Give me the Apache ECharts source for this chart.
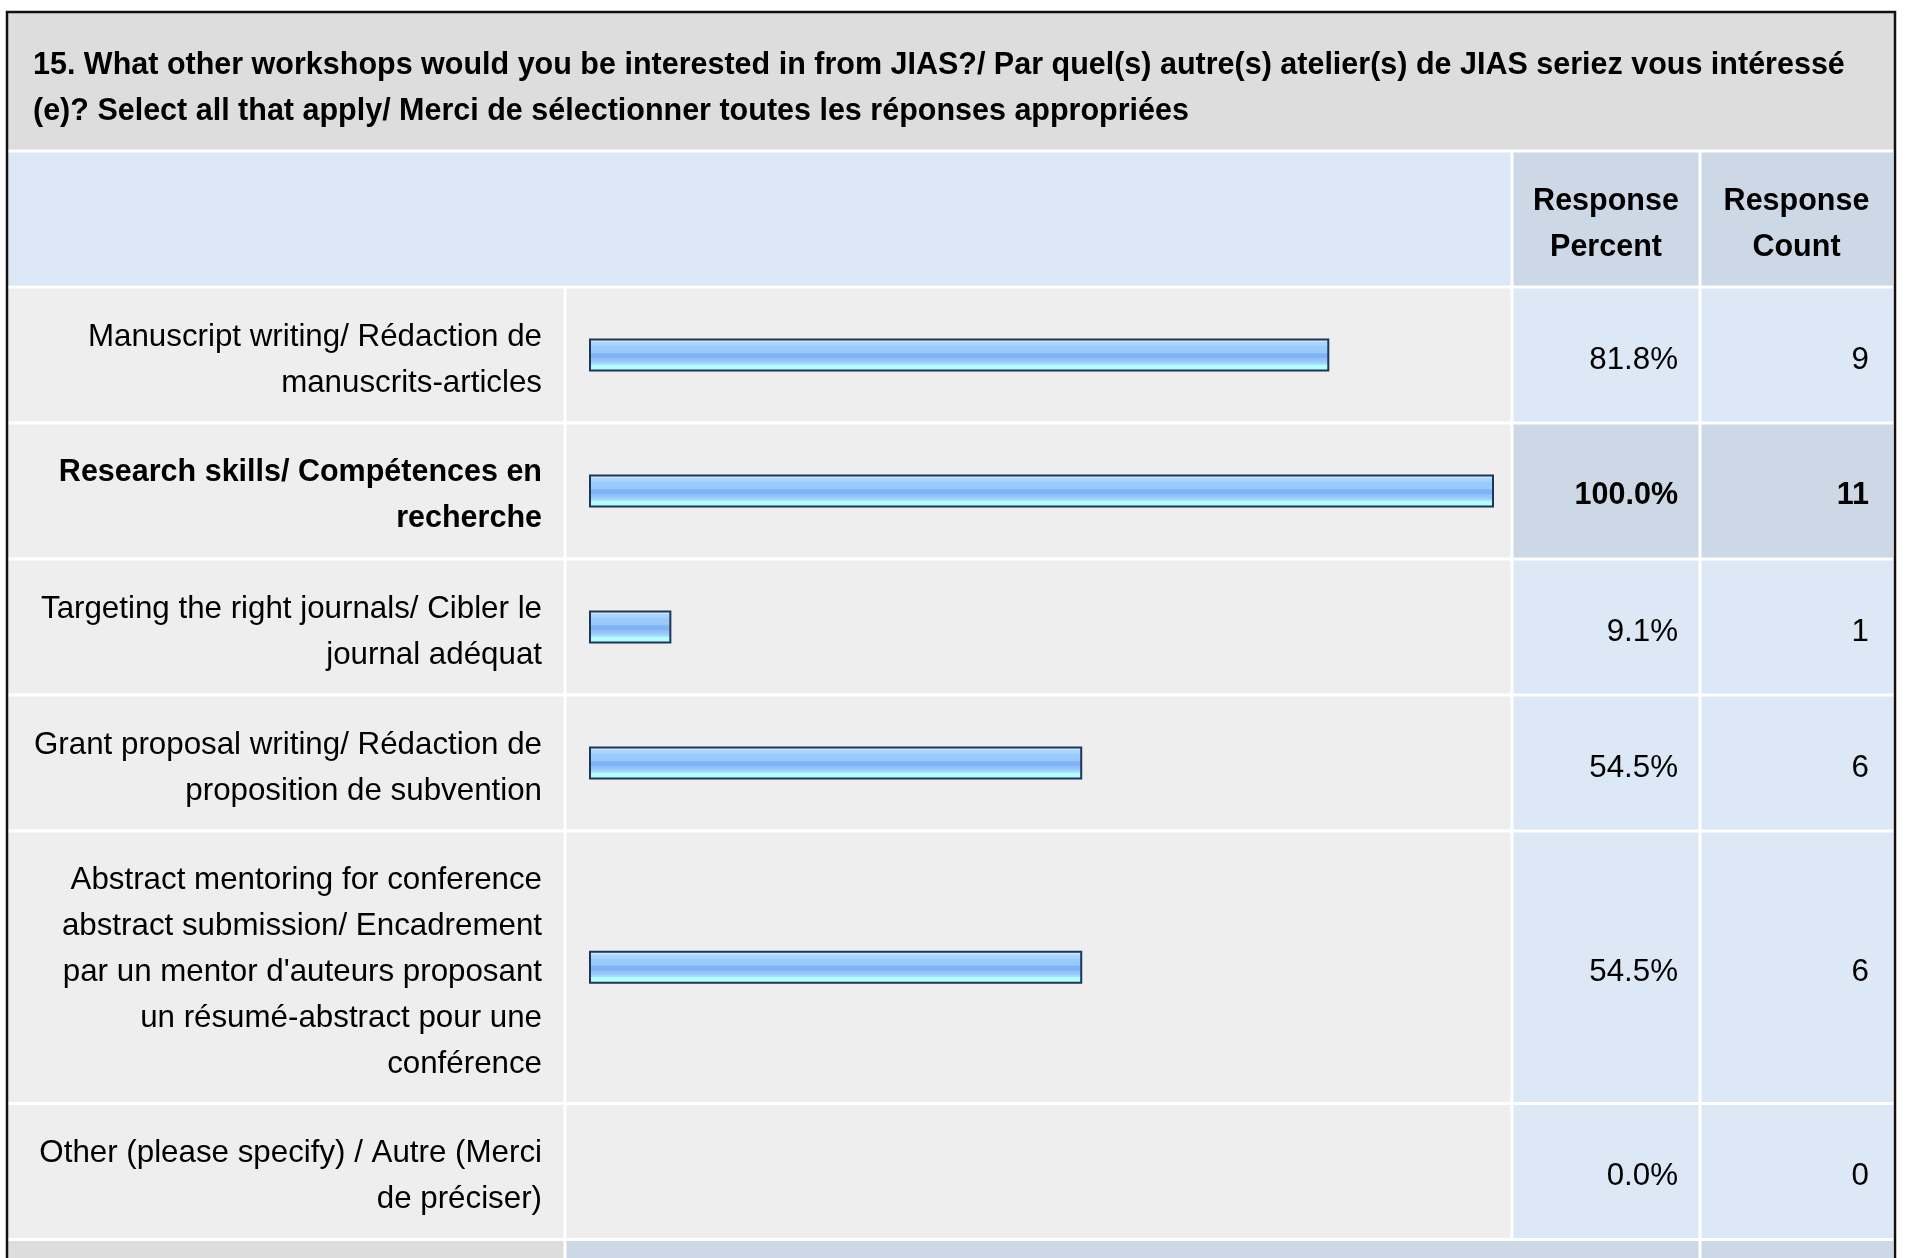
<!DOCTYPE html>
<html>
<head>
<meta charset="utf-8">
<script src="https://cdn.jsdelivr.net/npm/echarts@6/dist/echarts.min.js"></script>
<style>
html,body{margin:0;padding:0;background:#fff;}
#chart{width:1907px;height:1258px;}
</style>
</head>
<body>
<div id="chart"></div>
<script>
// ---- data ----
const categories = [
  "Manuscript writing/ Rédaction de\nmanuscrits-articles",
  "Research skills/ Compétences en\nrecherche",
  "Targeting the right journals/ Cibler le\njournal adéquat",
  "Grant proposal writing/ Rédaction de\nproposition de subvention",
  "Abstract mentoring for conference\nabstract submission/ Encadrement\npar un mentor d'auteurs proposant\nun résumé-abstract pour une\nconférence",
  "Other (please specify) / Autre (Merci\nde préciser)"
];
const responsePercent = [81.8, 100.0, 9.1, 54.5, 54.5, 0.0];
const responseCount = [9, 11, 1, 6, 6, 0];
const columnHeaders = ["Response\nPercent", "Response\nCount"];
const titleText = "15. What other workshops would you be interested in from JIAS?/ Par quel(s) autre(s) atelier(s) de JIAS seriez vous intéressé\n(e)? Select all that apply/ Merci de sélectionner toutes les réponses appropriées";

// ---- layout ----
const FONT = "'Liberation Sans', Arial, Helvetica, sans-serif";
const L = {
  outerL: 8, outerR: 1894, outerT: 13,
  titleB: 151, headerB: 287,
  colLabelR: 565, colBarR: 1512, colPctR: 1700, colCntR: 1893,
  barLeft: 589, barWidthPx: 905,
  lineH: 45.5, rowPad: 45, gap: 1.5
};
const maxVal = Math.max.apply(null, responsePercent);
const rows = [];
let y = L.headerB;
categories.forEach((c, i) => {
  const lines = c.split("\n").length;
  const h = lines * L.lineH + L.rowPad;
  rows.push({top: y, h: h, bold: responsePercent[i] === maxVal});
  y += h;
});
const footerTop = y;

const chart = echarts.init(document.getElementById('chart'), null, {renderer: 'canvas'});

const barGradient = new echarts.graphic.LinearGradient(0, 0, 0, 1, [
  {offset: 0, color: '#d6ecfe'},
  {offset: 0.11, color: '#cbe6fe'},
  {offset: 0.12, color: '#aad5fe'},
  {offset: 0.23, color: '#a6d2fd'},
  {offset: 0.24, color: '#9ccbfd'},
  {offset: 0.44, color: '#99c8fc'},
  {offset: 0.46, color: '#80b4f5'},
  {offset: 0.59, color: '#7fb3f4'},
  {offset: 0.61, color: '#8fc3f8'},
  {offset: 0.70, color: '#95c8fa'},
  {offset: 0.72, color: '#a0d1fc'},
  {offset: 0.78, color: '#a8dafc'},
  {offset: 0.80, color: '#b2fdfe'},
  {offset: 1, color: '#b4ffff'}
]);

const g = [];
function rect(x1, y1, x2, y2, fill, z) {
  g.push({type: 'rect', z: z == null ? -5 : z, silent: true,
    shape: {x: x1, y: y1, width: x2 - x1, height: y2 - y1},
    style: {fill: fill}});
}
function text(str, x, yy, align, size, weight) {
  g.push({type: 'text', z: 50, silent: true,
    style: {text: str, x: x, y: yy, textAlign: align, textVerticalAlign: 'middle',
      fontSize: size, fontFamily: FONT, fontWeight: weight, fill: '#000', lineHeight: 46}});
}
const gp = L.gap;
// white base
rect(L.outerL, L.outerT, L.outerR, 1300, '#ffffff', -10);
// title
rect(L.outerL, L.outerT, L.outerR, L.titleB - gp, '#dddddd');
// header
rect(L.outerL, L.titleB + gp, L.colBarR - gp, L.headerB - gp, '#dce8f5');
rect(L.colBarR + gp, L.titleB + gp, L.colPctR - gp, L.headerB - gp, '#ccd8e6');
rect(L.colPctR + gp, L.titleB + gp, L.colCntR, L.headerB - gp, '#ccd8e6');
// rows
rows.forEach((r, i) => {
  const t = r.top + gp, b = r.top + r.h - gp;
  const valBg = r.bold ? '#ccd8e6' : '#dce8f5';
  const w = r.bold ? 'bold' : 'normal';
  const fs = r.bold ? 30.5 : 31.3;
  rect(L.outerL, t, L.colLabelR - gp, b, '#eeeeee');
  rect(L.colLabelR + gp, t, L.colBarR - gp, b, '#eeeeee');
  rect(L.colBarR + gp, t, L.colPctR - gp, b, valBg);
  rect(L.colPctR + gp, t, L.colCntR, b, valBg);
  const cy = r.top + r.h / 2 + 5;
  text(categories[i], L.colLabelR - 23, cy, 'right', fs, w);
  text(responsePercent[i].toFixed(1) + '%', 1678, cy, 'right', fs, w);
  text(String(responseCount[i]), 1869, cy, 'right', fs, w);
});
// footer
rect(L.outerL, footerTop + gp, L.colLabelR - gp, 1300, '#dddddd');
rect(L.colLabelR + gp, footerTop + gp, L.colPctR - gp, 1300, '#ccd8e6');
rect(L.colPctR + gp, footerTop + gp, L.colCntR, 1300, '#ccd8e6');
// outer border
g.push({type: 'rect', z: 60, silent: true,
  shape: {x: L.outerL - 1, y: L.outerT - 1, width: L.outerR - L.outerL + 2, height: 1400},
  style: {fill: 'none', stroke: '#111111', lineWidth: 2.5}});
// title text
text(titleText, 33, 89, 'left', 30.5, 'bold');
// header texts
text(columnHeaders[0], (L.colBarR + L.colPctR) / 2, 225, 'center', 30.5, 'bold');
text(columnHeaders[1], (L.colPctR + L.colCntR) / 2, 225, 'center', 30.5, 'bold');

const grids = [], xAxes = [], yAxes = [], series = [];
rows.forEach((r, i) => {
  grids.push({left: L.barLeft, width: L.barWidthPx, top: r.top, height: r.h, containLabel: false});
  xAxes.push({type: 'value', gridIndex: i, min: 0, max: 100, show: false});
  yAxes.push({type: 'category', gridIndex: i, data: [categories[i]], show: false});
  const v = responsePercent[i];
  series.push({type: 'bar', xAxisIndex: i, yAxisIndex: i, barWidth: 33, silent: true,
    animation: false,
    itemStyle: {color: barGradient, borderColor: '#1d3658', borderWidth: 2},
    data: [v === 0 ? {value: v, itemStyle: {borderWidth: 0, opacity: 0}} : v]});
});

chart.setOption({
  animation: false,
  backgroundColor: '#ffffff',
  grid: grids, xAxis: xAxes, yAxis: yAxes, series: series,
  graphic: {elements: g}
});
</script>
</body>
</html>
